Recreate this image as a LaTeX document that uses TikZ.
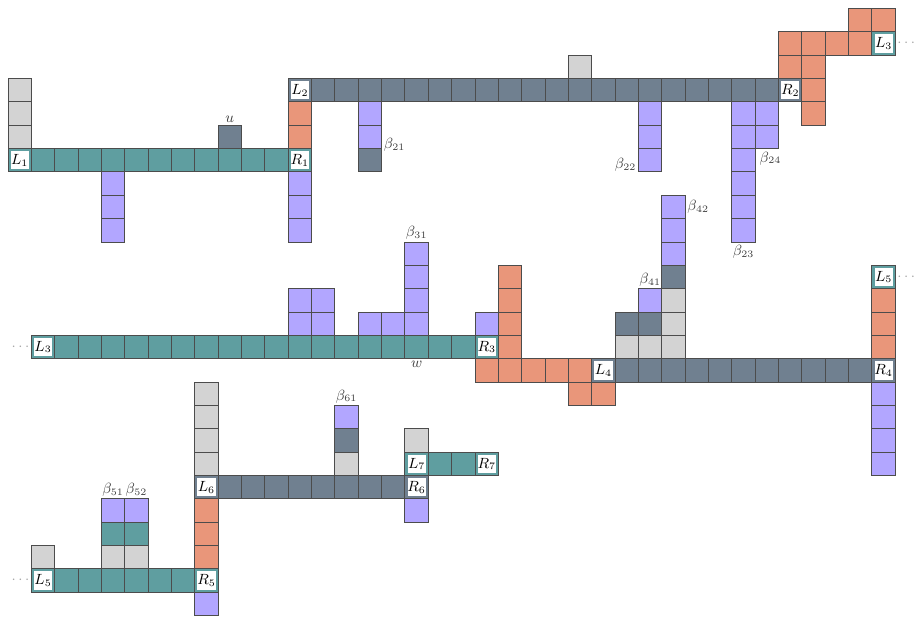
\documentclass[tikz,border=0pt]{standalone}
\definecolor{cT}{RGB}{95,158,160}
\definecolor{cS}{RGB}{112,128,144}
\definecolor{cO}{RGB}{233,150,122}
\definecolor{cP}{RGB}{178,166,255}
\definecolor{cG}{RGB}{211,211,211}
\tikzset{
  cellst/.style={draw=black!70, line width=0.6pt},
  beta/.style={font=\small, text=black!75, inner sep=1.2pt},
  lbl/.style={font=\small, inner sep=0pt},
  dotsst/.style={text=black!35, font=\small, inner sep=1pt}
}
\newcommand\mycell[3]{\draw[cellst, fill=#1] (#2,-#3) rectangle ++(1,-1);}
\newcommand\mylab[5]{%
  \draw[cellst, fill=#1] (#2,-#3) rectangle ++(1,-1);
  \fill[white] (#2+0.11,-#3-0.11) rectangle ++(0.78,-0.78);
  \node[lbl] (#5) at (#2+0.5,-#3-0.5) {$#4$};}
\begin{document}
\begin{tikzpicture}[x=0.5cm,y=0.5cm]
\useasboundingbox (-0.343,0.364) rectangle (38.8,-26.15);
% teal
\foreach \c in {1,...,11} {\mycell{cT}{\c}{6}}
\foreach \c in {2,...,19} {\mycell{cT}{\c}{14}}
\foreach \c in {18,19} {\mycell{cT}{\c}{19}}
\foreach \c in {4,5} {\mycell{cT}{\c}{22}}
\foreach \c in {2,...,7} {\mycell{cT}{\c}{24}}
% slate
\foreach \c in {13,...,32} {\mycell{cS}{\c}{3}}
\foreach \c/\r in {9/5,15/6,28/11,26/13,27/13,14/18} {\mycell{cS}{\c}{\r}}
\foreach \c in {26,...,36} {\mycell{cS}{\c}{15}}
\foreach \c in {9,...,16} {\mycell{cS}{\c}{20}}
% orange
\foreach \c/\r in {12/4,12/5,36/0,37/0,33/1,34/1,35/1,36/1,33/2,34/2,34/3,34/4,
  21/11,21/12,21/13,21/14,20/15,21/15,22/15,23/15,24/15,24/16,25/16,
  37/12,37/13,37/14,8/21,8/22,8/23} {\mycell{cO}{\c}{\r}}
% purple
\foreach \c/\r in {4/7,4/8,4/9,12/7,12/8,12/9,15/4,15/5,27/4,27/5,27/6,
  31/4,31/5,31/6,31/7,31/8,31/9,32/4,32/5,28/8,28/9,28/10,27/12,
  17/10,17/11,17/12,17/13,15/13,16/13,12/12,12/13,13/12,13/13,20/13,
  37/16,37/17,37/18,37/19,4/21,5/21,14/17,17/21,8/25} {\mycell{cP}{\c}{\r}}
% light gray
\foreach \c/\r in {0/3,0/4,0/5,24/2,28/12,28/13,28/14,27/14,26/14,1/23,4/23,5/23,
  8/16,8/17,8/18,8/19,14/19,17/18} {\mycell{cG}{\c}{\r}}
% label cells
\mylab{cT}{0}{6}{L_1}{L1}
\mylab{cT}{12}{6}{R_1}{R1}
\mylab{cS}{12}{3}{L_2}{L2}
\mylab{cS}{33}{3}{R_2}{R2}
\mylab{cT}{37}{1}{L_3}{L3a}
\mylab{cT}{1}{14}{L_3}{L3b}
\mylab{cT}{20}{14}{R_3}{R3}
\mylab{cS}{25}{15}{L_4}{L4}
\mylab{cS}{37}{15}{R_4}{R4}
\mylab{cT}{37}{11}{L_5}{L5a}
\mylab{cT}{1}{24}{L_5}{L5b}
\mylab{cT}{8}{24}{R_5}{R5}
\mylab{cS}{8}{20}{L_6}{L6}
\mylab{cS}{17}{20}{R_6}{R6}
\mylab{cT}{17}{19}{L_7}{L7}
\mylab{cT}{20}{19}{R_7}{R7}
% text labels
\node[beta, anchor=south] (u) at (9.5,-5) {$u$};
\node[beta, anchor=north] (w) at (17.5,-15) {$w$};
\node[beta, anchor=west] (b21) at (16,-5.85) {$\beta_{21}$};
\node[beta, anchor=east] (b22) at (27,-6.7) {$\beta_{22}$};
\node[beta, anchor=north] (b23) at (31.5,-10.05) {$\beta_{23}$};
\node[beta, anchor=north] (b24) at (32.65,-6.05) {$\beta_{24}$};
\node[beta, anchor=south] (b31) at (17.5,-10) {$\beta_{31}$};
\node[beta, anchor=south] (b41) at (27.5,-12) {$\beta_{41}$};
\node[beta, anchor=west] (b42) at (29,-8.5) {$\beta_{42}$};
\node[beta, anchor=south] (b51) at (4.5,-21) {$\beta_{51}$};
\node[beta, anchor=south] (b52) at (5.5,-21) {$\beta_{52}$};
\node[beta, anchor=south] (b61) at (14.5,-17) {$\beta_{61}$};
% dots
\node[dotsst, anchor=west] (d1) at (38,-1.5) {$\cdots$};
\node[dotsst, anchor=east] (d2) at (1,-14.5) {$\cdots$};
\node[dotsst, anchor=west] (d3) at (38,-11.5) {$\cdots$};
\node[dotsst, anchor=east] (d4) at (1,-24.5) {$\cdots$};
\end{tikzpicture}
\end{document}
